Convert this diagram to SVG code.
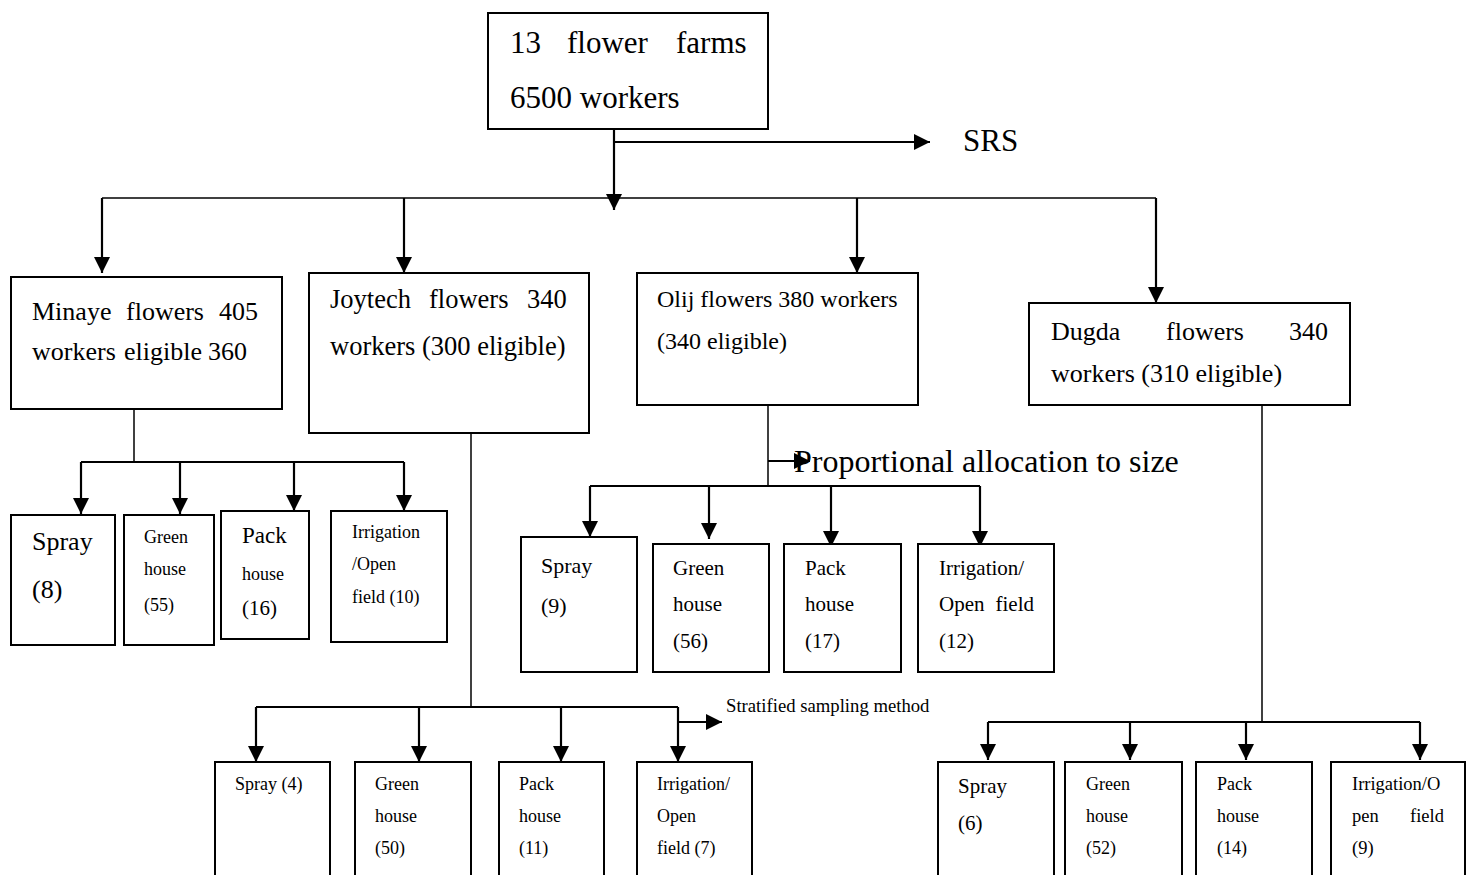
<svg xmlns="http://www.w3.org/2000/svg" width="1471" height="875" viewBox="0 0 1471 875">
<style>
.box{fill:#fff;stroke:#000;stroke-width:2}
.c{fill:none;stroke:#000;stroke-width:2.2}
.t{stroke-width:1.5}
.a{marker-end:url(#ah)}
text{font-family:"Liberation Serif","Times New Roman",serif;fill:#000}
.f31{font-size:31px}.f32{font-size:32px}.f26{font-size:26px}.f265{font-size:26.5px}.f24{font-size:24px}
.f23{font-size:23px}.f22{font-size:22px}.f21{font-size:21px}.f18{font-size:18px}.f185{font-size:18.5px}.f187{font-size:18.7px}
</style>
<defs>
<marker id="ah" viewBox="0 0 16 16" refX="16" refY="8" markerWidth="16" markerHeight="16" markerUnits="userSpaceOnUse" orient="auto">
<path d="M0,0 L16,8 L0,16 z" fill="#000"/>
</marker>
</defs>
<rect width="1471" height="875" fill="#fff"/>

<g id="connectors">
<!-- top -->
<path class="c" d="M614,130 V198"/>
<path class="c a" d="M614,198 V210"/>
<path class="c a" d="M614,142 H930"/>
<path class="c t" d="M102,198 H1156"/>
<path class="c a" d="M102,198 V273"/>
<path class="c a" d="M404,198 V273"/>
<path class="c a" d="M857,198 V273"/>
<path class="c a" d="M1156,198 V303"/>
<!-- Minaye -->
<path class="c t" d="M134,409 V462"/>
<path class="c" d="M81,462 H404"/>
<path class="c a" d="M81,462 V514"/>
<path class="c a" d="M180,462 V514"/>
<path class="c a" d="M294,462 V511"/>
<path class="c a" d="M404,462 V511"/>
<!-- Joytech -->
<path class="c t" d="M471,433 V707"/>
<path class="c" d="M256,707 H678"/>
<path class="c a" d="M256,707 V762"/>
<path class="c a" d="M419,707 V762"/>
<path class="c a" d="M561,707 V762"/>
<path class="c a" d="M678,707 V762"/>
<path class="c a" d="M678,722 H722"/>
<!-- Olij -->
<path class="c t" d="M768,405 V486"/>
<path class="c a" d="M768,461 H810"/>
<path class="c" d="M590,486 H980"/>
<path class="c a" d="M590,486 V537"/>
<path class="c a" d="M709,486 V539"/>
<path class="c a" d="M831,486 V547"/>
<path class="c a" d="M980,486 V547"/>
<!-- Dugda -->
<path class="c t" d="M1262,405 V722"/>
<path class="c" d="M988,722 H1420"/>
<path class="c a" d="M988,722 V760"/>
<path class="c a" d="M1130,722 V760"/>
<path class="c a" d="M1246,722 V760"/>
<path class="c a" d="M1420,722 V760"/>
</g>

<g id="labels">
<text class="f31" x="963" y="151">SRS</text>
<text class="f32" x="794" y="472">Proportional allocation to size</text>
<text class="f187" x="726" y="712">Stratified sampling method</text>
</g>

<g id="root">
<rect class="box" x="488" y="13" width="280" height="116"/>
<text class="f31" y="53"><tspan x="510">13</tspan><tspan x="567">flower</tspan><tspan x="676">farms</tspan></text>
<text class="f31" x="510" y="108">6500 workers</text>
</g>

<g id="minaye">
<rect class="box" x="11" y="277" width="271" height="132"/>
<text class="f26" y="320"><tspan x="32">Minaye</tspan><tspan x="126">flowers</tspan><tspan x="219">405</tspan></text>
<text class="f26" y="360"><tspan x="32">workers</tspan><tspan x="124">eligible</tspan><tspan x="208">360</tspan></text>
</g>

<g id="joytech">
<rect class="box" x="309" y="273" width="280" height="160"/>
<text class="f265" y="308"><tspan x="330">Joytech</tspan><tspan x="429">flowers</tspan><tspan x="527">340</tspan></text>
<text class="f265" x="330" y="355">workers (300 eligible)</text>
</g>

<g id="olij">
<rect class="box" x="637" y="273" width="281" height="132"/>
<text class="f24" x="657" y="307">Olij flowers 380 workers</text>
<text class="f24" x="657" y="349">(340 eligible)</text>
</g>

<g id="dugda">
<rect class="box" x="1029" y="303" width="321" height="102"/>
<text class="f26" y="340"><tspan x="1051">Dugda</tspan><tspan x="1166">flowers</tspan><tspan x="1289">340</tspan></text>
<text class="f26" x="1051" y="382">workers (310 eligible)</text>
</g>

<!-- Minaye children -->
<g id="m-spray">
<rect class="box" x="11" y="515" width="104" height="130"/>
<text class="f26" x="32" y="550">Spray</text>
<text class="f26" x="32" y="598">(8)</text>
</g>
<g id="m-green">
<rect class="box" x="124" y="515" width="90" height="130"/>
<text class="f18" x="144" y="543">Green</text>
<text class="f18" x="144" y="575">house</text>
<text class="f18" x="144" y="611">(55)</text>
</g>
<g id="m-pack">
<rect class="box" x="221" y="511" width="88" height="128"/>
<text class="f23" x="242" y="543">Pack</text>
<text class="f18" x="242" y="580">house</text>
<text class="f21" x="242" y="615">(16)</text>
</g>
<g id="m-irr">
<rect class="box" x="331" y="511" width="116" height="131"/>
<text class="f18" x="352" y="538">Irrigation</text>
<text class="f18" x="352" y="570">/Open</text>
<text class="f18" x="352" y="603">field (10)</text>
</g>

<!-- Olij children -->
<g id="o-spray">
<rect class="box" x="521" y="537" width="116" height="135"/>
<text class="f22" x="541" y="573">Spray</text>
<text class="f22" x="541" y="613">(9)</text>
</g>
<g id="o-green">
<rect class="box" x="653" y="544" width="116" height="128"/>
<text class="f21" x="673" y="575">Green</text>
<text class="f21" x="673" y="611">house</text>
<text class="f21" x="673" y="648">(56)</text>
</g>
<g id="o-pack">
<rect class="box" x="784" y="544" width="117" height="128"/>
<text class="f21" x="805" y="575">Pack</text>
<text class="f21" x="805" y="611">house</text>
<text class="f21" x="805" y="648">(17)</text>
</g>
<g id="o-irr">
<rect class="box" x="918" y="544" width="136" height="128"/>
<text class="f21" x="939" y="575">Irrigation/</text>
<text class="f21" y="611"><tspan x="939">Open</tspan><tspan x="995.5">field</tspan></text>
<text class="f21" x="939" y="648">(12)</text>
</g>

<!-- Joytech children -->
<g id="j-spray">
<rect class="box" x="215" y="762" width="115" height="120"/>
<text class="f18" x="235" y="790">Spray (4)</text>
</g>
<g id="j-green">
<rect class="box" x="355" y="762" width="116" height="120"/>
<text class="f18" x="375" y="790">Green</text>
<text class="f18" x="375" y="822">house</text>
<text class="f18" x="375" y="854">(50)</text>
</g>
<g id="j-pack">
<rect class="box" x="499" y="762" width="105" height="120"/>
<text class="f18" x="519" y="790">Pack</text>
<text class="f18" x="519" y="822">house</text>
<text class="f18" x="519" y="854">(11)</text>
</g>
<g id="j-irr">
<rect class="box" x="637" y="762" width="115" height="120"/>
<text class="f18" x="657" y="790">Irrigation/</text>
<text class="f18" x="657" y="822">Open</text>
<text class="f18" x="657" y="854">field (7)</text>
</g>

<!-- Dugda children -->
<g id="d-spray">
<rect class="box" x="938" y="762" width="116" height="120"/>
<text class="f21" x="958" y="793">Spray</text>
<text class="f21" x="958" y="830">(6)</text>
</g>
<g id="d-green">
<rect class="box" x="1065" y="762" width="117" height="120"/>
<text class="f18" x="1086" y="790">Green</text>
<text class="f18" x="1086" y="822">house</text>
<text class="f18" x="1086" y="854">(52)</text>
</g>
<g id="d-pack">
<rect class="box" x="1196" y="762" width="116" height="120"/>
<text class="f18" x="1217" y="790">Pack</text>
<text class="f18" x="1217" y="822">house</text>
<text class="f18" x="1217" y="854">(14)</text>
</g>
<g id="d-irr">
<rect class="box" x="1331" y="762" width="134" height="120"/>
<text class="f185" x="1352" y="790">Irrigation/O</text>
<text class="f185" y="822"><tspan x="1352">pen</tspan><tspan x="1410">field</tspan></text>
<text class="f185" x="1352" y="854">(9)</text>
</g>
</svg>
